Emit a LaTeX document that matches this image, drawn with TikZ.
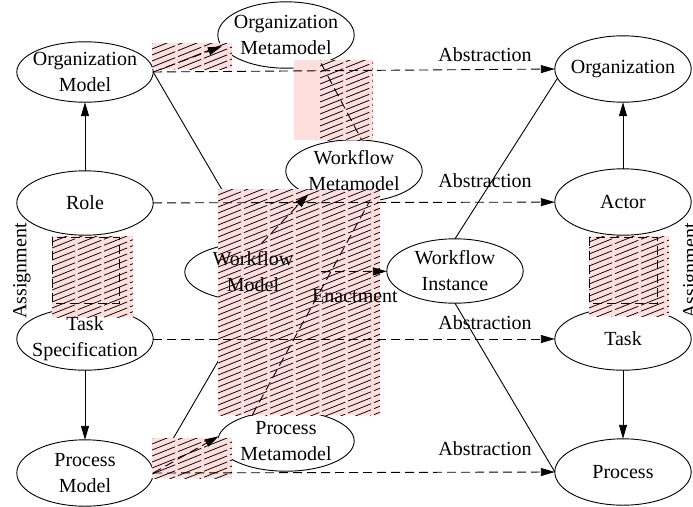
\documentclass[tikz,border=0pt]{standalone}
\usepackage{fontspec}
\setmainfont{Liberation Serif}
\usetikzlibrary{arrows.meta,shapes.geometric,calc}
\definecolor{hatchFill}{HTML}{FFDEDE}
\pgfdeclarelayer{back}
\pgfdeclarelayer{hatch}
\pgfsetlayers{back,hatch,main}
\tikzset{
  font=\fontsize{20}{26}\selectfont,
  blob/.style ={ellipse, align=center, inner xsep=-8pt, inner ysep=-2pt, minimum width=136pt, minimum height=64pt},
  rim/.style  ={line width=0.9pt},
  arr/.style  ={-{Triangle[length=14pt,width=8pt]}, line width=0.9pt},
  darr/.style ={arr, dash pattern=on 9pt off 5pt},
  dline/.style={line width=0.9pt, dash pattern=on 9pt off 5pt},
  hatchline/.style={line width=0.75pt, dash pattern=on 25pt off 3pt},
  lab/.style  ={inner sep=0pt},
}
% pink box with slanted hatching
\newcommand{\hatchbox}[4]{%
  \begin{scope}
    \clip (#1,#2) rectangle (#3,#4);
    \fill[hatchFill] (#1,#2) rectangle (#3,#4);
    \pgfmathsetmacro\hw{#3-#1}
    \pgfmathsetmacro\hh{#4-#2+0.4*\hw}
    \foreach \k in {0,6,...,\hh} \draw[hatchline] (#1,#2+\k) -- ++(\hw,-0.4*\hw);
  \end{scope}}
\begin{document}
\begin{tikzpicture}[x=1pt,y=-1pt]
  \useasboundingbox (0,0) rectangle (693,506);
  % models (left), metamodels (middle), real world (right)
  \node[blob, minimum height=60pt] (om)   at (85,72)   {Organization\\Model};
  \node[blob, minimum height=66pt] (omm)  at (286,35)  {Organization\\Metamodel};
  \node[blob]                      (role) at (85,203)  {Role};
  \node[blob, minimum height=62pt] (wfm)  at (354,171) {Workflow\\Metamodel};
  \node[blob, minimum height=66pt] (org)  at (623,69)  {Organization};
  \node[blob, minimum height=66pt] (act)  at (623,202) {Actor};
  \node[blob, minimum height=58pt] (wm)   at (253,272) {Workflow\\Model};
  \node[blob]                      (wi)   at (455,271) {Workflow\\Instance};
  \node[blob, minimum height=62pt] (ts)   at (85,339)  {Task\\Specification};
  \node[blob, minimum height=62pt] (task) at (623,339) {Task};
  \node[blob, minimum height=60pt] (pmm)  at (286,441) {Process\\Metamodel};
  \node[blob, minimum height=66pt] (pm)   at (85,473)  {Process\\Model};
  \node[blob, minimum height=66pt] (proc) at (623,472) {Process};

  % outlines and plain lines lie under the hatching
  \begin{pgfonlayer}{back}
    \foreach \nd in {om,omm,role,wfm,org,act,wm,wi,ts,task,pmm,pm,proc}
      \draw[rim] let \p1=($(\nd.east)-(\nd.center)$), \p2=($(\nd.north)-(\nd.center)$)
        in (\nd.center) ellipse [x radius=\x1, y radius=\y2];
    \draw[rim] (om.east) -- (wm.north);
    \draw[rim] (pm.east) -- (wm.south);
    \draw[rim] (wi.north) -- (org.188);
    \draw[rim] (wi.south) -- (proc.west);
  \end{pgfonlayer}

  \begin{pgfonlayer}{hatch}
    \hatchbox{152}{43}{232}{69}
    \fill[hatchFill] (294,60) rectangle (320,140);
    \hatchbox{320}{60}{373}{140}
    \hatchbox{218}{189}{380}{415}
    \hatchbox{52}{236}{133}{317}
    \hatchbox{589}{236}{669}{316}
    \hatchbox{152}{438}{232}{478}
  \end{pgfonlayer}

  \draw[arr] (role) -- (om);
  \draw[arr] (ts) -- (pm);
  \draw[arr] (act) -- (org);
  \draw[arr] (task) -- (proc);

  % abstraction
  \draw[darr] (om.east) -- (org.west);
  \draw[darr] (role) -- (act);
  \draw[darr] (ts) -- (task);
  \draw[darr] (pm.east) -- (proc.west);
  \node[lab] (ab1) at (485,54.5)  {Abstraction};
  \node[lab] (ab2) at (485,181)   {Abstraction};
  \node[lab] (ab3) at (485,322.5) {Abstraction};
  \node[lab] (ab4) at (485,448.5) {Abstraction};

  % instance-of and enactment
  \draw[darr] (om.east) -- (omm.190);
  \draw[darr] (pm.east) -- (pmm.176);
  \draw[darr] (wm.73) -- (wfm.207);
  \draw[dline] (pmm.142) -- (wfm.-63);
  \draw[dline] (omm.-39) -- (wfm.76);
  \draw[darr] (wm) -- (wi);
  \node[lab] (enact) at (355,296) {Enactment};

  % assignment
  \draw[dline] (52,237) rectangle (119,303);
  \draw[dline] (589,237) rectangle (657,303);
  \node[lab, rotate=90] (asl) at (22,271)  {Assignment};
  \node[lab, rotate=90] (asr) at (692,271) {Assignment};
\end{tikzpicture}
\end{document}
